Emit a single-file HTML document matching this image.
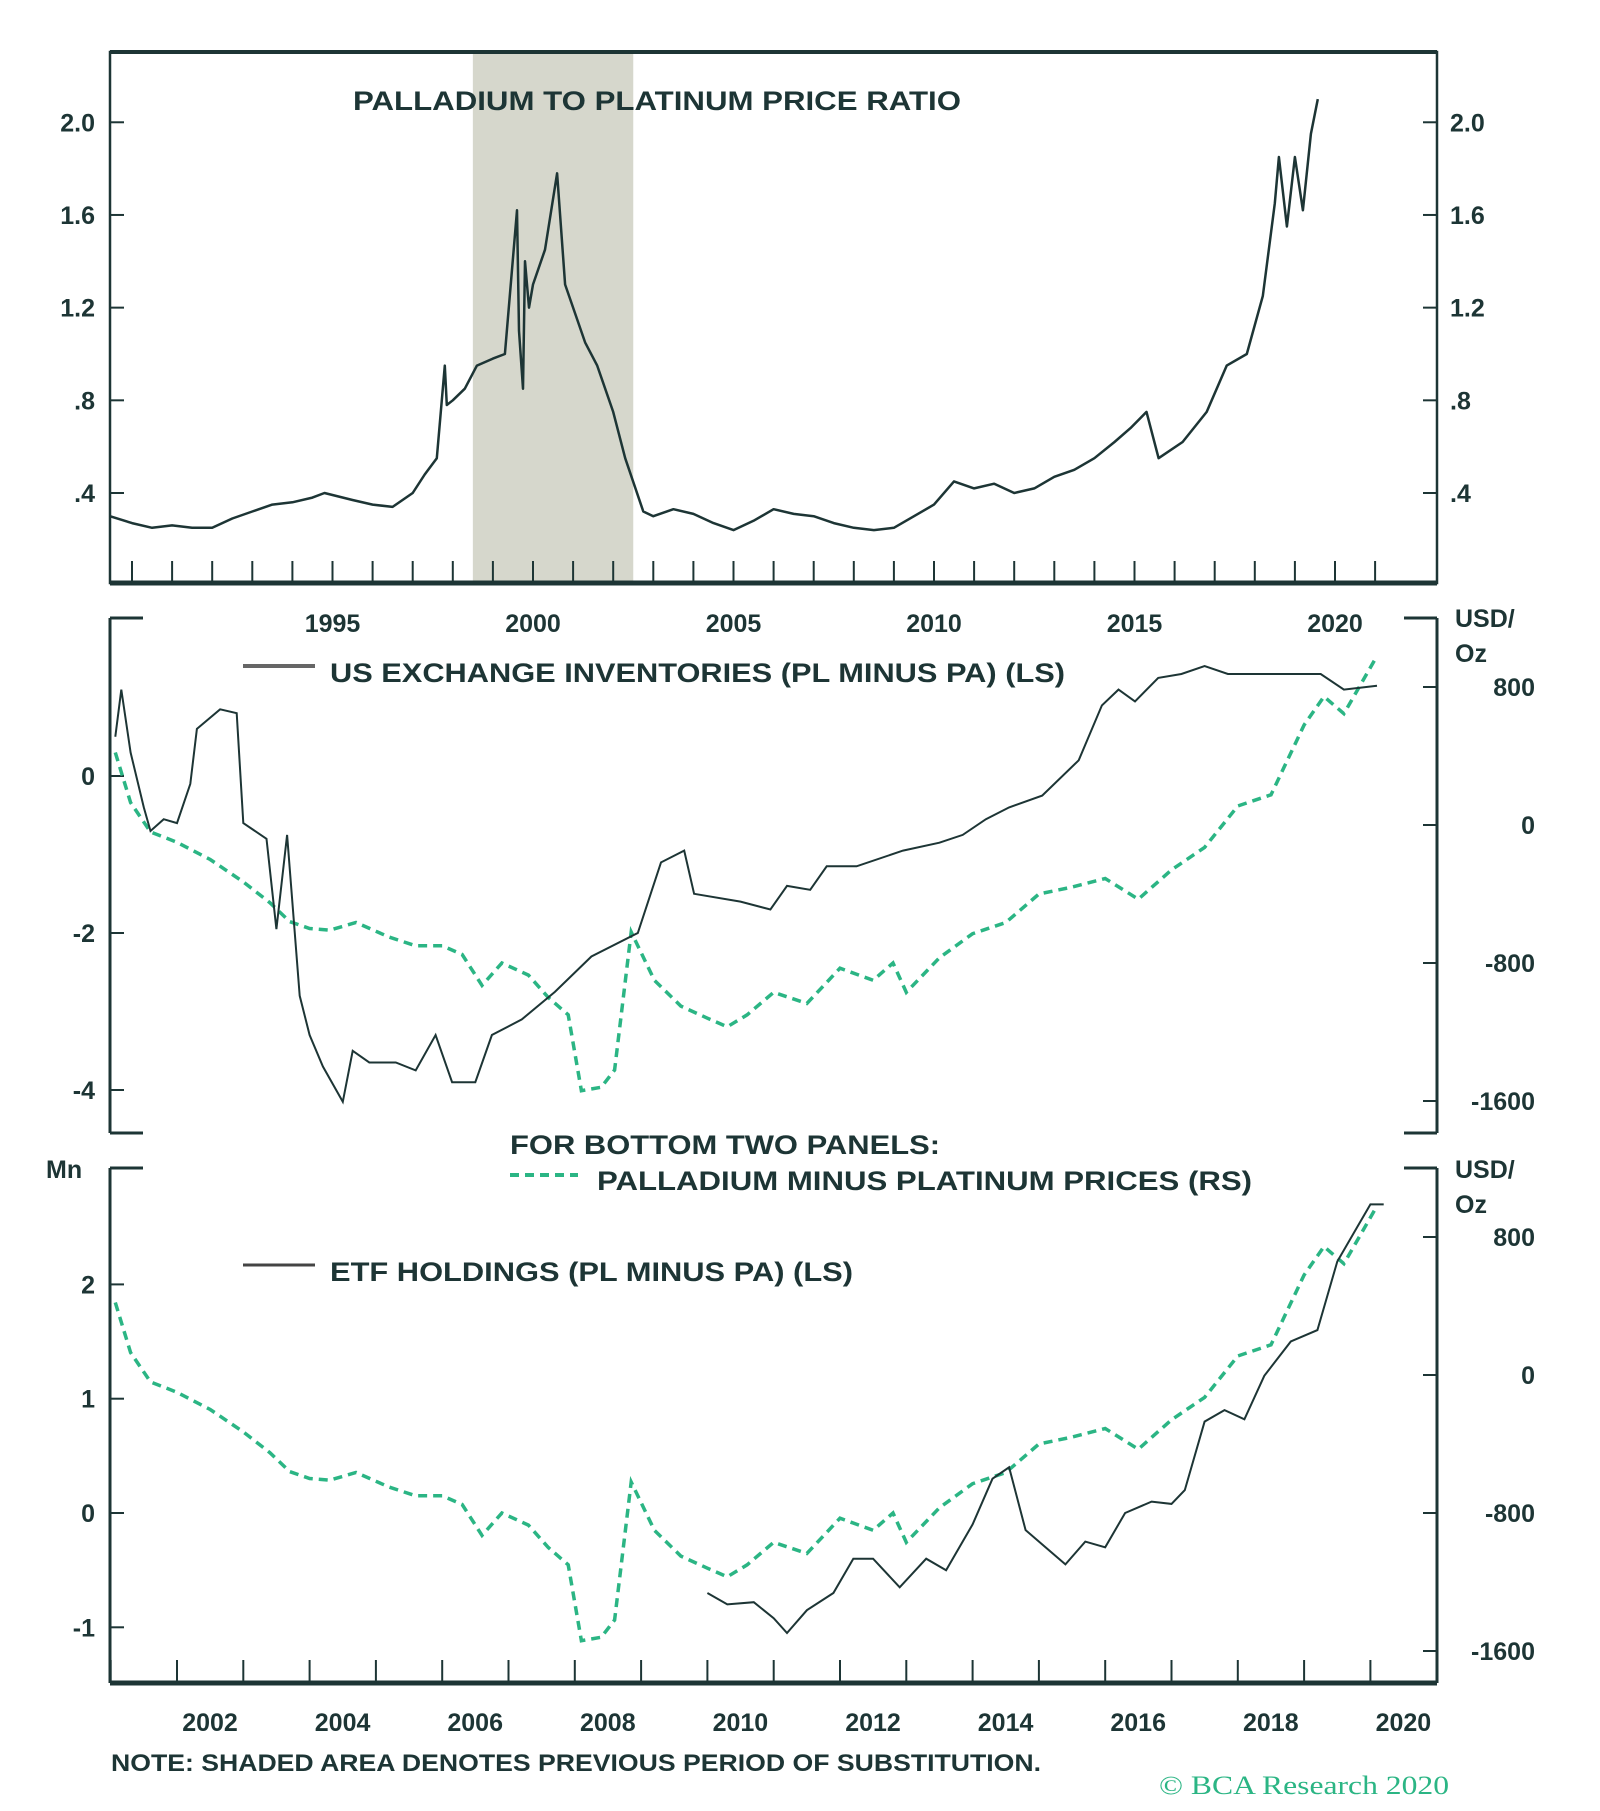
<!DOCTYPE html>
<html><head><meta charset="utf-8"><style>
html,body{margin:0;padding:0;background:#fff;}
svg{display:block;font-family:"Liberation Sans",sans-serif;}
</style></head><body>
<svg id="chart" width="1600" height="1811" viewBox="0 0 1600 1811" xmlns="http://www.w3.org/2000/svg">
<g id="g"></g>
</svg>
<script>
// ---- data ----
const ratioYears=[1989.45,1990,1990.5,1991,1991.5,1992,1992.5,1993,1993.5,1994,1994.5,1994.8,1995.5,1996,1996.5,1997,1997.3,1997.6,1997.8,1997.85,1998.0,1998.3,1998.6,1999,1999.3,1999.6,1999.65,1999.75,1999.8,1999.9,2000,2000.3,2000.6,2000.8,2001,2001.3,2001.6,2002,2002.3,2002.75,2003,2003.5,2004,2004.5,2005,2005.5,2006,2006.5,2007,2007.5,2008,2008.5,2009,2009.5,2010,2010.5,2011,2011.5,2012,2012.5,2013,2013.5,2014,2014.5,2014.9,2015.3,2015.6,2016.2,2016.8,2017.3,2017.8,2018.2,2018.5,2018.6,2018.8,2019.0,2019.2,2019.4,2019.57];
const ratioValues=[0.30,0.27,0.25,0.26,0.25,0.25,0.29,0.32,0.35,0.36,0.38,0.40,0.37,0.35,0.34,0.40,0.48,0.55,0.95,0.78,0.80,0.85,0.95,0.98,1.00,1.62,1.10,0.85,1.40,1.20,1.30,1.45,1.78,1.30,1.20,1.05,0.95,0.75,0.55,0.32,0.30,0.33,0.31,0.27,0.24,0.28,0.33,0.31,0.30,0.27,0.25,0.24,0.25,0.30,0.35,0.45,0.42,0.44,0.40,0.42,0.47,0.50,0.55,0.62,0.68,0.75,0.55,0.62,0.75,0.95,1.00,1.25,1.65,1.85,1.55,1.85,1.62,1.95,2.10];
const ratioTicks=[2.0,1.6,1.2,0.8,0.4];
const ratioTickLabels=["2.0","1.6","1.2",".8",".4"];
const topYearLabels=[1995,2000,2005,2010,2015,2020];

const invYears=[2001.07,2001.16,2001.3,2001.5,2001.6,2001.8,2002.0,2002.2,2002.3,2002.65,2002.9,2003.0,2003.35,2003.5,2003.66,2003.85,2004.0,2004.2,2004.5,2004.65,2004.9,2005.3,2005.6,2005.9,2006.15,2006.5,2006.75,2007.2,2007.7,2008.25,2008.95,2009.3,2009.65,2009.8,2010.5,2010.95,2011.2,2011.55,2011.8,2012.25,2012.95,2013.5,2013.85,2014.2,2014.55,2015.05,2015.6,2015.95,2016.2,2016.45,2016.8,2017.15,2017.5,2017.85,2018.2,2018.55,2019.25,2019.6,2020.1];
const invValues=[0.5,1.1,0.3,-0.4,-0.7,-0.55,-0.6,-0.1,0.6,0.85,0.8,-0.6,-0.8,-1.95,-0.75,-2.8,-3.3,-3.7,-4.15,-3.5,-3.65,-3.65,-3.75,-3.3,-3.9,-3.9,-3.3,-3.1,-2.75,-2.3,-2.0,-1.1,-0.95,-1.5,-1.6,-1.7,-1.4,-1.45,-1.15,-1.15,-0.95,-0.85,-0.75,-0.55,-0.4,-0.25,0.2,0.9,1.1,0.95,1.25,1.3,1.4,1.3,1.3,1.3,1.3,1.1,1.15];

const priceYears=[2001.07,2001.3,2001.6,2002.0,2002.5,2003.0,2003.4,2003.7,2004.0,2004.3,2004.7,2005.2,2005.6,2006.0,2006.3,2006.6,2006.9,2007.3,2007.6,2007.9,2008.1,2008.4,2008.6,2008.85,2009.2,2009.6,2010.0,2010.3,2010.6,2011.0,2011.5,2012.0,2012.5,2012.8,2013.0,2013.5,2014.0,2014.5,2015.0,2015.5,2016.0,2016.5,2017.0,2017.5,2018.0,2018.5,2019.0,2019.3,2019.6,2020.1];
const priceValues=[420,130,-40,-100,-200,-330,-450,-560,-600,-610,-565,-650,-700,-700,-750,-930,-800,-870,-1000,-1100,-1540,-1520,-1420,-620,-900,-1050,-1120,-1170,-1100,-970,-1035,-830,-900,-800,-970,-770,-630,-565,-400,-360,-310,-430,-260,-130,110,175,580,745,645,980];

const etfYears=[2010.0,2010.3,2010.7,2011.0,2011.2,2011.5,2011.9,2012.2,2012.5,2012.9,2013.3,2013.6,2014.0,2014.3,2014.55,2014.8,2015.1,2015.4,2015.7,2016.0,2016.3,2016.7,2017.0,2017.2,2017.5,2017.8,2018.1,2018.4,2018.8,2019.2,2019.5,2019.8,2020.0,2020.2];
const etfValues=[-0.7,-0.8,-0.78,-0.92,-1.05,-0.85,-0.7,-0.4,-0.4,-0.65,-0.4,-0.5,-0.1,0.3,0.4,-0.15,-0.3,-0.45,-0.25,-0.3,0.0,0.1,0.08,0.2,0.8,0.9,0.82,1.2,1.5,1.6,2.2,2.5,2.7,2.7];

const midLeftTicks=[0,-2,-4];
const midLeftLabels=["0","-2","-4"];
const rightTicks=[800,0,-800,-1600];
const rightLabels=["800","0","-800","-1600"];
const botLeftTicks=[2,1,0,-1];
const botLeftLabels=["2","1","0","-1"];
const botYearLabels=[2002,2004,2006,2008,2010,2012,2014,2016,2018,2020];

// ---- scales ----
const xTop=y=>533+(y-2000)*40.1;
const yTop=v=>493-(v-0.4)*231.7;
const xB=y=>177+(y-2002)*66.3;
const yMidL=v=>776-v*78.5;
const yMidR=v=>825-v*0.1725;
const yBotL=v=>1513-v*114.3;
const yBotR=v=>1375-v*0.1725;

const NS="http://www.w3.org/2000/svg";
const G=document.getElementById('g');
const DARK="#1d3535", GREEN="#2bb584";
function mk(tag,attrs,parent){const e=document.createElementNS(NS,tag);for(const k in attrs)e.setAttribute(k,attrs[k]);(parent||G).appendChild(e);return e;}
function txt(x,y,s,size,anchor,fill,extra){const e=mk('text',Object.assign({x:x,y:y,'font-size':size,'text-anchor':anchor||'start',fill:fill||DARK,'font-weight':'bold'},extra||{}));e.textContent=s;return e;}
function pathOf(xs,vs,fx,fy){return xs.map((x,i)=>(i?'L':'M')+fx(x).toFixed(1)+' '+fy(vs[i]).toFixed(1)).join(' ');}

// ---- top panel ----
let e;
e=mk('rect',{x:xTop(1998.5),y:52,width:xTop(2002.5)-xTop(1998.5),height:531,fill:'#d6d7cc'});


e=mk('rect',{x:110,y:52,width:1327,height:531,fill:'none',stroke:DARK,'stroke-width':2.5});


mk('line',{x1:110,y1:583,x2:1437,y2:583,stroke:DARK,'stroke-width':5});
mk('line',{x1:110,y1:52,x2:1437,y2:52,stroke:DARK,'stroke-width':4});
for(let yr=1990;yr<=2021;yr++){e=mk('line',{x1:xTop(yr),y1:583,x2:xTop(yr),y2:561,stroke:DARK,'stroke-width':2});

}
ratioTicks.forEach((v,i)=>{
 mk('line',{x1:110,y1:yTop(v),x2:124,y2:yTop(v),stroke:DARK,'stroke-width':2});
 mk('line',{x1:1423,y1:yTop(v),x2:1437,y2:yTop(v),stroke:DARK,'stroke-width':2});
 e=txt(95,yTop(v)+9,ratioTickLabels[i],25,'end');
 
 
 e=txt(1450,yTop(v)+9,ratioTickLabels[i],25,'start');
 
 
});
e=mk('path',{d:pathOf(ratioYears,ratioValues,xTop,yTop),fill:'none',stroke:DARK,'stroke-width':2.5,'stroke-linejoin':'round'});


e=txt(353,110,"PALLADIUM TO PLATINUM PRICE RATIO",27,'start',DARK,{textLength:608,lengthAdjust:'spacingAndGlyphs'});


topYearLabels.forEach(yr=>{e=txt(xTop(yr),632,String(yr),25,'middle');

});

// ---- middle panel ----
mk('line',{x1:110,y1:618,x2:110,y2:1133,stroke:DARK,'stroke-width':3});
mk('line',{x1:1437,y1:618,x2:1437,y2:1133,stroke:DARK,'stroke-width':3});
[[110,143,618],[110,143,1133],[1404,1437,618],[1404,1437,1133]].forEach(a=>mk('line',{x1:a[0],y1:a[2],x2:a[1],y2:a[2],stroke:DARK,'stroke-width':3}));
midLeftTicks.forEach((v,i)=>{mk('line',{x1:110,y1:yMidL(v),x2:124,y2:yMidL(v),stroke:DARK,'stroke-width':2});
 e=txt(95,yMidL(v)+9,midLeftLabels[i],25,'end');
 
 });
rightTicks.forEach((v,i)=>{mk('line',{x1:1423,y1:yMidR(v),x2:1437,y2:yMidR(v),stroke:DARK,'stroke-width':2});
 e=txt(1535,yMidR(v)+9,rightLabels[i],25,'end');
 
 });
e=txt(1455,627,"USD/",25,'start');


txt(1455,662,"Oz",25,'start');
e=mk('path',{d:pathOf(priceYears,priceValues,xB,yMidR),fill:'none',stroke:GREEN,'stroke-width':3.5,'stroke-dasharray':'9 6'});


e=mk('path',{d:pathOf(invYears,invValues,xB,yMidL),fill:'none',stroke:DARK,'stroke-width':2});


mk('line',{x1:243,y1:666,x2:315,y2:666,stroke:'#666','stroke-width':4});
e=txt(330,682,"US EXCHANGE INVENTORIES (PL MINUS PA) (LS)",27,'start',DARK,{textLength:735,lengthAdjust:'spacingAndGlyphs'});



// ---- bottom panel ----
mk('line',{x1:110,y1:1168,x2:110,y2:1683,stroke:DARK,'stroke-width':3});
mk('line',{x1:1437,y1:1168,x2:1437,y2:1683,stroke:DARK,'stroke-width':3});
mk('line',{x1:110,y1:1168,x2:143,y2:1168,stroke:DARK,'stroke-width':3});
mk('line',{x1:1404,y1:1168,x2:1437,y2:1168,stroke:DARK,'stroke-width':3});
mk('line',{x1:110,y1:1683,x2:1437,y2:1683,stroke:DARK,'stroke-width':5});
for(let yr=2001;yr<=2020;yr++){e=mk('line',{x1:xB(yr),y1:1683,x2:xB(yr),y2:1660,stroke:DARK,'stroke-width':2});

}
botLeftTicks.forEach((v,i)=>{mk('line',{x1:110,y1:yBotL(v),x2:124,y2:yBotL(v),stroke:DARK,'stroke-width':2});
 e=txt(95,yBotL(v)+9,botLeftLabels[i],25,'end');
 
 });
rightTicks.forEach((v,i)=>{mk('line',{x1:1423,y1:yBotR(v),x2:1437,y2:yBotR(v),stroke:DARK,'stroke-width':2});
 e=txt(1535,yBotR(v)+9,rightLabels[i],25,'end');
 
 });
e=txt(1455,1178,"USD/",25,'start');


txt(1455,1213,"Oz",25,'start');
e=txt(46,1178,"Mn",25,'start');


e=mk('path',{d:pathOf(priceYears,priceValues,xB,yBotR),fill:'none',stroke:GREEN,'stroke-width':3.5,'stroke-dasharray':'9 6'});


e=mk('path',{d:pathOf(etfYears,etfValues,xB,yBotL),fill:'none',stroke:DARK,'stroke-width':2});


e=txt(510,1154,"FOR BOTTOM TWO PANELS:",27,'start',DARK,{textLength:430,lengthAdjust:'spacingAndGlyphs'});


mk('line',{x1:510,y1:1175,x2:578,y2:1175,stroke:GREEN,'stroke-width':4,'stroke-dasharray':'9 6'});
e=txt(597,1190,"PALLADIUM MINUS PLATINUM PRICES (RS)",27,'start',DARK,{textLength:655,lengthAdjust:'spacingAndGlyphs'});


mk('line',{x1:243,y1:1265,x2:315,y2:1265,stroke:'#444','stroke-width':3});
e=txt(330,1281,"ETF HOLDINGS (PL MINUS PA) (LS)",27,'start',DARK,{textLength:523,lengthAdjust:'spacingAndGlyphs'});


botYearLabels.forEach(yr=>{e=txt(xB(yr)+33,1731,String(yr),25,'middle');

});
e=txt(111,1771,"NOTE: SHADED AREA DENOTES PREVIOUS PERIOD OF SUBSTITUTION.",24,'start',DARK,{textLength:930,lengthAdjust:'spacingAndGlyphs'});


e=mk('text',{x:1159,y:1794,'font-size':26,fill:GREEN,'font-family':'Liberation Serif, serif',textLength:290,lengthAdjust:'spacingAndGlyphs'});
e.textContent="© BCA Research 2020";


</script>
</body></html>
